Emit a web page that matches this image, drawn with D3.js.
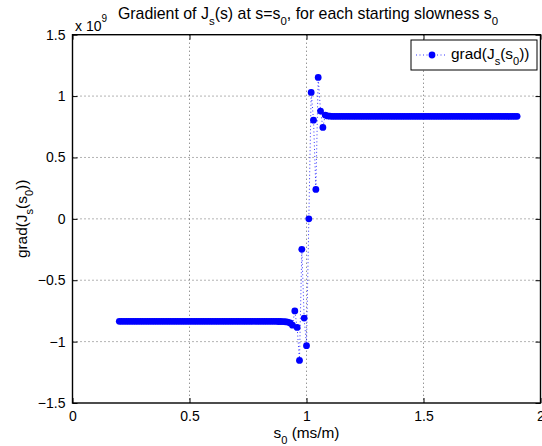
<!DOCTYPE html>
<html>
<head>
<meta charset="utf-8">
<script src="https://cdn.jsdelivr.net/npm/d3@7/dist/d3.min.js"></script>
<style>
  html, body { margin: 0; padding: 0; background: #fff; }
  svg { display: block; }
  text { font-family: "Liberation Sans", Arial, Helvetica, sans-serif; fill: #000; }
</style>
</head>
<body>
<svg id="chart" width="542" height="446"></svg>
<script>
// ---------- data (values in units of 1e9) ----------
const s0 = [
  0.20,0.21,0.22,0.23,0.24,0.25,0.26,0.27,0.28,0.29,
  0.30,0.31,0.32,0.33,0.34,0.35,0.36,0.37,0.38,0.39,
  0.40,0.41,0.42,0.43,0.44,0.45,0.46,0.47,0.48,0.49,
  0.50,0.51,0.52,0.53,0.54,0.55,0.56,0.57,0.58,0.59,
  0.60,0.61,0.62,0.63,0.64,0.65,0.66,0.67,0.68,0.69,
  0.70,0.71,0.72,0.73,0.74,0.75,0.76,0.77,0.78,0.79,
  0.80,0.81,0.82,0.83,0.84,0.85,0.86,0.87,0.88,0.89,
  0.90,0.91,0.92,0.93,0.94,0.95,0.96,0.97,0.98,0.99,
  1.00,1.01,1.02,1.03,1.04,1.05,1.06,1.07,1.08,1.09,
  1.10,1.11,1.12,1.13,1.14,1.15,1.16,1.17,1.18,1.19,
  1.20,1.21,1.22,1.23,1.24,1.25,1.26,1.27,1.28,1.29,
  1.30,1.31,1.32,1.33,1.34,1.35,1.36,1.37,1.38,1.39,
  1.40,1.41,1.42,1.43,1.44,1.45,1.46,1.47,1.48,1.49,
  1.50,1.51,1.52,1.53,1.54,1.55,1.56,1.57,1.58,1.59,
  1.60,1.61,1.62,1.63,1.64,1.65,1.66,1.67,1.68,1.69,
  1.70,1.71,1.72,1.73,1.74,1.75,1.76,1.77,1.78,1.79,
  1.80,1.81,1.82,1.83,1.84,1.85,1.86,1.87,1.88,1.89,
  1.90
];
const grad = [
  -0.835,-0.835,-0.835,-0.835,-0.835,-0.835,-0.835,-0.835,-0.835,-0.835,
  -0.835,-0.835,-0.835,-0.835,-0.835,-0.835,-0.835,-0.835,-0.835,-0.835,
  -0.835,-0.835,-0.835,-0.835,-0.835,-0.835,-0.835,-0.835,-0.835,-0.835,
  -0.835,-0.835,-0.835,-0.835,-0.835,-0.835,-0.835,-0.835,-0.835,-0.835,
  -0.835,-0.835,-0.835,-0.835,-0.835,-0.835,-0.835,-0.835,-0.835,-0.835,
  -0.835,-0.835,-0.835,-0.835,-0.835,-0.835,-0.835,-0.835,-0.835,-0.835,
  -0.835,-0.835,-0.835,-0.835,-0.835,-0.835,-0.835,-0.835,-0.836,-0.836,
  -0.837,-0.838,-0.841,-0.848,-0.866,-0.750,-0.884,-1.153,-0.248,-0.808,
  -1.033, 0.000, 1.030, 0.804, 0.240, 1.152, 0.878, 0.745, 0.845, 0.838,
   0.836, 0.835, 0.835, 0.835, 0.835, 0.835, 0.835, 0.835, 0.835, 0.835,
   0.835, 0.835, 0.835, 0.835, 0.835, 0.835, 0.835, 0.835, 0.835, 0.835,
   0.835, 0.835, 0.835, 0.835, 0.835, 0.835, 0.835, 0.835, 0.835, 0.835,
   0.835, 0.835, 0.835, 0.835, 0.835, 0.835, 0.835, 0.835, 0.835, 0.835,
   0.835, 0.835, 0.835, 0.835, 0.835, 0.835, 0.835, 0.835, 0.835, 0.835,
   0.835, 0.835, 0.835, 0.835, 0.835, 0.835, 0.835, 0.835, 0.835, 0.835,
   0.835, 0.835, 0.835, 0.835, 0.835, 0.835, 0.835, 0.835, 0.835, 0.835,
   0.835, 0.835, 0.835, 0.835, 0.835, 0.835, 0.835, 0.835, 0.835, 0.835,
   0.835
];
const xTicks = [0, 0.5, 1, 1.5, 2];
const xTickLabels = ["0", "0.5", "1", "1.5", "2"];
const yTicks = [-1.5, -1, -0.5, 0, 0.5, 1, 1.5];
const yTickLabels = ["\u22121.5", "\u22121", "\u22120.5", "0", "0.5", "1", "1.5"];

// ---------- layout ----------
const L = 72.5, R = 540.5, T = 34.7, B = 403;
const FS_TICK = 14, FS_LAB = 15.4, FS_TITLE = 15.9, SUB = 0.72;
const svg = d3.select("#chart");
const x = d3.scaleLinear().domain([0, 2]).range([L, R]);
const y = d3.scaleLinear().domain([-1.5, 1.5]).range([B, T]);
const blue = "#0000ff";

// grid
const grid = svg.append("g");
xTicks.slice(1, -1).forEach(t => {
  grid.append("line").attr("x1", x(t)).attr("x2", x(t)).attr("y1", T).attr("y2", B)
    .attr("stroke", "#000").attr("stroke-width", 0.6).attr("stroke-dasharray", "1,3");
});
yTicks.slice(1, -1).forEach(t => {
  grid.append("line").attr("x1", L).attr("x2", R).attr("y1", y(t)).attr("y2", y(t))
    .attr("stroke", "#000").attr("stroke-width", 0.6).attr("stroke-dasharray", "1,3");
});

// axes with inward ticks
const xAxisB = d3.axisBottom(x).tickValues(xTicks).tickFormat((d, i) => xTickLabels[i]).tickSizeInner(-5).tickSizeOuter(0).tickPadding(8);
const xAxisT = d3.axisTop(x).tickValues(xTicks).tickFormat("").tickSizeInner(-5).tickSizeOuter(0);
const yAxisL = d3.axisLeft(y).tickValues(yTicks).tickFormat((d, i) => yTickLabels[i]).tickSizeInner(-5).tickSizeOuter(0).tickPadding(7);
const yAxisR = d3.axisRight(y).tickValues(yTicks).tickFormat("").tickSizeInner(-5).tickSizeOuter(0);

function styleAxis(g) {
  g.select(".domain").remove();
  g.selectAll(".tick line").attr("stroke", "#000").attr("stroke-width", 1);
  g.selectAll(".tick text").attr("font-size", FS_TICK).attr("font-family", "Liberation Sans, Arial, sans-serif").attr("fill", "#000");
}
svg.append("g").attr("transform", `translate(0,${B})`).call(xAxisB).call(styleAxis);
svg.append("g").attr("transform", `translate(0,${T})`).call(xAxisT).call(styleAxis);
svg.append("g").attr("transform", `translate(${L},0)`).call(yAxisL).call(styleAxis);
svg.append("g").attr("transform", `translate(${R},0)`).call(yAxisR).call(styleAxis);

// frame
svg.append("rect").attr("x", L).attr("y", T).attr("width", R - L).attr("height", B - T)
  .attr("fill", "none").attr("stroke", "#000").attr("stroke-width", 1.4);

// data
const pts = s0.map((d, i) => [d, grad[i]]);
svg.append("path").datum(pts)
  .attr("d", d3.line().x(d => x(d[0])).y(d => y(d[1])))
  .attr("fill", "none").attr("stroke", blue).attr("stroke-width", 0.8).attr("stroke-dasharray", "1,2.5");
svg.append("g").selectAll("circle").data(pts).enter().append("circle")
  .attr("cx", d => x(d[0])).attr("cy", d => y(d[1])).attr("r", 3.4).attr("fill", blue);

// exponent label
const ex = svg.append("text").attr("x", 75).attr("y", 31).attr("font-size", FS_TICK);
ex.append("tspan").text("x 10");
ex.append("tspan").attr("font-size", 10).attr("dy", -9).text("9");

// helper for text with subscripts: parts = [[text, isSub], ...]
function rich(t, parts, fs) {
  const sfs = fs * SUB, shift = fs * 0.36;
  let down = false;
  parts.forEach(([s, isSub]) => {
    const ts = t.append("tspan").text(s);
    if (isSub && !down) { ts.attr("font-size", sfs).attr("dy", shift); down = true; }
    else if (!isSub && down) { ts.attr("dy", -shift); down = false; }
    else if (isSub) ts.attr("font-size", sfs);
  });
  return t;
}

// title
const title = svg.append("text").attr("x", 308).attr("y", 19).attr("font-size", FS_TITLE).attr("text-anchor", "middle");
rich(title, [["Gradient of J"], ["s", true], ["(s) at s=s"], ["0", true], [", for each starting slowness s"], ["0", true]], FS_TITLE);

// x label
const xl = svg.append("text").attr("x", (L + R) / 2).attr("y", 438).attr("font-size", FS_LAB).attr("text-anchor", "middle");
rich(xl, [["s"], ["0", true], [" (ms/m)"]], FS_LAB);

// y label
const gradParts = [["grad(J"], ["s", true], ["(s"], ["0", true], ["))"]];
const yl = svg.append("text").attr("transform", `translate(27,${(T + B) / 2}) rotate(-90)`)
  .attr("font-size", FS_LAB).attr("text-anchor", "middle");
rich(yl, gradParts, FS_LAB);

// legend
const lg = svg.append("g");
lg.append("rect").attr("x", 411).attr("y", 40).attr("width", 126).attr("height", 30)
  .attr("fill", "#fff").attr("stroke", "#000").attr("stroke-width", 1);
lg.append("line").attr("x1", 416).attr("x2", 446).attr("y1", 55).attr("y2", 55)
  .attr("stroke", blue).attr("stroke-width", 0.8).attr("stroke-dasharray", "1,2.5");
lg.append("circle").attr("cx", 432).attr("cy", 55).attr("r", 3.4).attr("fill", blue);
const lt = lg.append("text").attr("x", 451).attr("y", 59).attr("font-size", FS_LAB);
rich(lt, gradParts, FS_LAB);
</script>
</body>
</html>
